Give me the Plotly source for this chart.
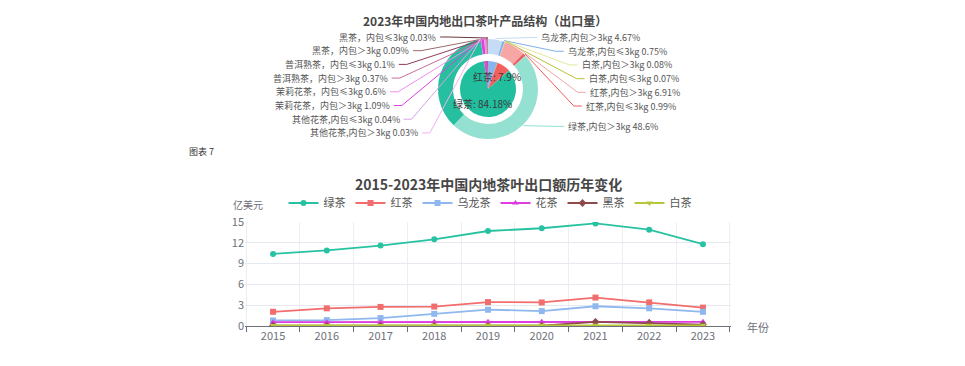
import math
import plotly.graph_objects as go

# ---------------- data: line chart ----------------
years = ["2015", "2016", "2017", "2018", "2019", "2020", "2021", "2022", "2023"]
series_names = ["绿茶", "红茶", "乌龙茶", "花茶", "黑茶", "白茶"]
green_tea = [10.4, 10.9, 11.6, 12.5, 13.7, 14.1, 14.8, 13.9, 11.8]
red_tea = [2.05, 2.55, 2.75, 2.8, 3.45, 3.4, 4.1, 3.4, 2.65]
oolong_tea = [0.8, 0.85, 1.15, 1.75, 2.35, 2.15, 2.85, 2.55, 2.05]
flower_tea = [0.55, 0.55, 0.55, 0.6, 0.6, 0.6, 0.6, 0.6, 0.6]
dark_tea = [0.05, 0.05, 0.05, 0.05, 0.05, 0.05, 0.6, 0.45, 0.2]
white_tea = [0.08, 0.08, 0.09, 0.1, 0.1, 0.1, 0.12, 0.1, 0.1]
y_ticks = [0, 3, 6, 9, 12, 15]

# ---------------- data: pie chart ----------------
inner_labels = ["乌龙茶", "白茶", "红茶", "绿茶", "花茶", "普洱熟茶", "黑茶"]
inner_values = [5.42, 0.15, 7.9, 84.18, 1.76, 0.47, 0.12]
inner_shown = ["红茶", "绿茶"]

outer_labels = ["乌龙茶,内包＞3kg", "乌龙茶,内包≤3kg", "白茶,内包＞3kg", "白茶,内包≤3kg",
                "红茶,内包＞3kg", "红茶,内包≤3kg", "绿茶,内包＞3kg", "绿茶,内包≤3kg",
                "其他花茶,内包＞3kg", "其他花茶,内包≤3kg", "茉莉花茶，内包＞3kg", "茉莉花茶，内包≤3kg",
                "普洱熟茶，内包＞3kg", "普洱熟茶，内包≤3kg", "黑茶，内包＞3kg", "黑茶，内包≤3kg"]
outer_values = [4.67, 0.75, 0.08, 0.07, 6.91, 0.99, 48.6, 35.58,
                0.03, 0.04, 1.09, 0.6, 0.37, 0.1, 0.09, 0.03]
outer_hidden = ["绿茶,内包≤3kg"]

# ---------------- styles ----------------
W, H = 965, 366
FONT = "Noto Sans CJK SC"
line_colors = ["#28c2a2", "#f26d6d", "#8fb8ee", "#dd3ddd", "#8e4a4a", "#b8c73a"]
line_symbols = ["circle", "square", "square", "triangle-up", "diamond", "triangle-down"]
inner_colors = ["#8ab4ea", "#b5c334", "#f2605e", "#22bf9f", "#d94bd9", "#a03a90", "#7a4040"]
outer_colors = ["#c6dbf5", "#7fb0ea", "#e2e89a", "#b5c334", "#f7a6a6", "#ee5d5d", "#95e1d1", "#26bfa0",
                "#f0b3f0", "#d9a2e6", "#e040e0", "#f08ef0", "#c86b9a", "#8d3b5c", "#9c6b6b", "#6b3a3a"]

CX, CY = 488, 89
R_OUT, HOLE, R_IN = 50, 0.70, 28


def px(x):
    return x / W


def py(y):
    return 1 - y / H


fig = go.Figure()

# ---------------- pies ----------------
fig.add_trace(go.Pie(
    labels=outer_labels, values=outer_values, sort=False, direction="clockwise", rotation=0,
    hole=HOLE, textinfo="none", hoverinfo="label+value", showlegend=False,
    marker=dict(colors=outer_colors, line=dict(width=0)),
    domain=dict(x=[px(CX - R_OUT), px(CX + R_OUT)], y=[py(CY + R_OUT), py(CY - R_OUT)]),
))
fig.add_trace(go.Pie(
    labels=inner_labels, values=inner_values, sort=False, direction="clockwise", rotation=0,
    textinfo="none", hoverinfo="label+value", showlegend=False,
    marker=dict(colors=inner_colors, line=dict(width=0)),
    domain=dict(x=[px(CX - R_IN), px(CX + R_IN)], y=[py(CY + R_IN), py(CY - R_IN)]),
))

annotations = []
shapes = []


def mid_angles(vals):
    tot = sum(vals)
    cum = 0
    out = []
    for v in vals:
        out.append((cum + v / 2) / tot * 2 * math.pi)
        cum += v
    return out


# inner labels
for lab, v, th in zip(inner_labels, inner_values, mid_angles(inner_values)):
    if lab in inner_shown:
        x = CX + 0.55 * R_IN * math.sin(th)
        y = CY - 0.55 * R_IN * math.cos(th)
        annotations.append(dict(x=px(x), y=py(y), xref="paper", yref="paper", showarrow=False,
                                xanchor="center", yanchor="middle", borderpad=0,
                                text=f"{lab}: {v:g}%", font=dict(family=FONT, size=10, color="#3a3a3a")))

# outer labels with leader lines
R_NAT, GAP, TOP = 52, 13.7, 37
EA, EB = 100, 60
items = []
for i, (lab, v, th) in enumerate(zip(outer_labels, outer_values, mid_angles(outer_values))):
    if lab in outer_hidden:
        continue
    side = 1 if math.sin(th) >= 0 else -1
    items.append(dict(i=i, lab=lab, v=v, th=th, side=side, nat=CY - R_NAT * math.cos(th)))

for side in (1, -1):
    grp = sorted([d for d in items if d["side"] == side], key=lambda d: d["nat"])
    prev = None
    for d in grp:
        y = max(d["nat"], TOP) if prev is None else max(d["nat"], prev + GAP)
        prev = y
        dy = (y - CY) / EB
        x = CX + side * EA * math.sqrt(max(0.0, 1 - dy * dy))
        sx = CX + (R_OUT + 1) * math.sin(d["th"])
        sy = CY - (R_OUT + 1) * math.cos(d["th"])
        ex = x - side * 2
        shapes.append(dict(type="path", xref="paper", yref="paper", layer="above",
                           path=f"M {px(sx)},{py(sy)} L {px(ex - side * 8)},{py(y)} L {px(ex)},{py(y)}",
                           line=dict(color=outer_colors[d["i"]], width=1)))
        anchor = "left" if side == 1 else "right"
        annotations.append(dict(x=px(x + side * 1), y=py(y), xref="paper", yref="paper",
                                xanchor=anchor, yanchor="middle", showarrow=False, borderpad=0,
                                text=f"{d['lab']} {d['v']:g}%",
                                font=dict(family=FONT, size=9, color="#555555")))

# ---------------- line chart ----------------
for name, vals, col, sym in zip(series_names,
                                [green_tea, red_tea, oolong_tea, flower_tea, dark_tea, white_tea],
                                line_colors, line_symbols):
    fig.add_trace(go.Scatter(
        x=years, y=vals, name=name, mode="lines+markers",
        line=dict(color=col, width=1.8),
        marker=dict(symbol=sym, size=6, color=col),
        xaxis="x", yaxis="y",
    ))

# titles and texts
annotations += [
    dict(x=px(485), y=py(21), xref="paper", yref="paper", showarrow=False, borderpad=0,
         xanchor="center", yanchor="middle",
         text="<b>2023年中国内地出口茶叶产品结构（出口量）</b>",
         font=dict(family=FONT, size=12, color="#464646")),
    dict(x=px(187), y=py(151), xref="paper", yref="paper", showarrow=False, xanchor="left",
         yanchor="middle", text="图表 7", font=dict(family=FONT, size=9, color="#333333")),
    dict(x=px(488), y=py(184), xref="paper", yref="paper", showarrow=False,
         xanchor="center", yanchor="middle",
         text="<b>2015-2023年中国内地茶叶出口额历年变化</b>",
         font=dict(family=FONT, size=14, color="#464646")),
    dict(x=px(248), y=py(205), xref="paper", yref="paper", showarrow=False, borderpad=0,
         xanchor="center", yanchor="middle",
         text="亿美元", font=dict(family=FONT, size=10, color="#6e7079")),
    dict(x=px(758), y=py(327), xref="paper", yref="paper", showarrow=False,
         xanchor="center", yanchor="middle",
         text="年份", font=dict(family=FONT, size=11, color="#6e7079")),
]

fig.update_layout(
    width=W, height=H, autosize=False,
    margin=dict(l=0, r=0, t=0, b=0),
    paper_bgcolor="white", plot_bgcolor="white",
    font=dict(family=FONT, color="#6e7079"),
    annotations=annotations, shapes=shapes,
    showlegend=True,
    legend=dict(orientation="h", x=px(490), xanchor="center", y=py(203), yanchor="middle",
                font=dict(family=FONT, size=11, color="#555555"), itemwidth=30,
                bgcolor="rgba(0,0,0,0)", traceorder="normal"),
    xaxis=dict(domain=[px(245), px(731)], type="category", tickson="boundaries",
               showline=True, linecolor="#6e7079", linewidth=1, ticks="outside", ticklen=5,
               tickcolor="#6e7079", showgrid=True, gridcolor="#eeeeee", automargin=False,
               tickfont=dict(family=FONT, size=11, color="#6e7079"), anchor="y", fixedrange=True),
    yaxis=dict(domain=[py(326), py(222)], range=[0, 15], tickvals=y_ticks, automargin=False,
               showline=False, zeroline=False, showgrid=True, gridcolor="#e6e9ef",
               tickfont=dict(family=FONT, size=11, color="#6e7079"), anchor="x", fixedrange=True),
)

fig.write_html("out.html", config={"displayModeBar": False},
               post_script="document.body.style.margin='0';")
